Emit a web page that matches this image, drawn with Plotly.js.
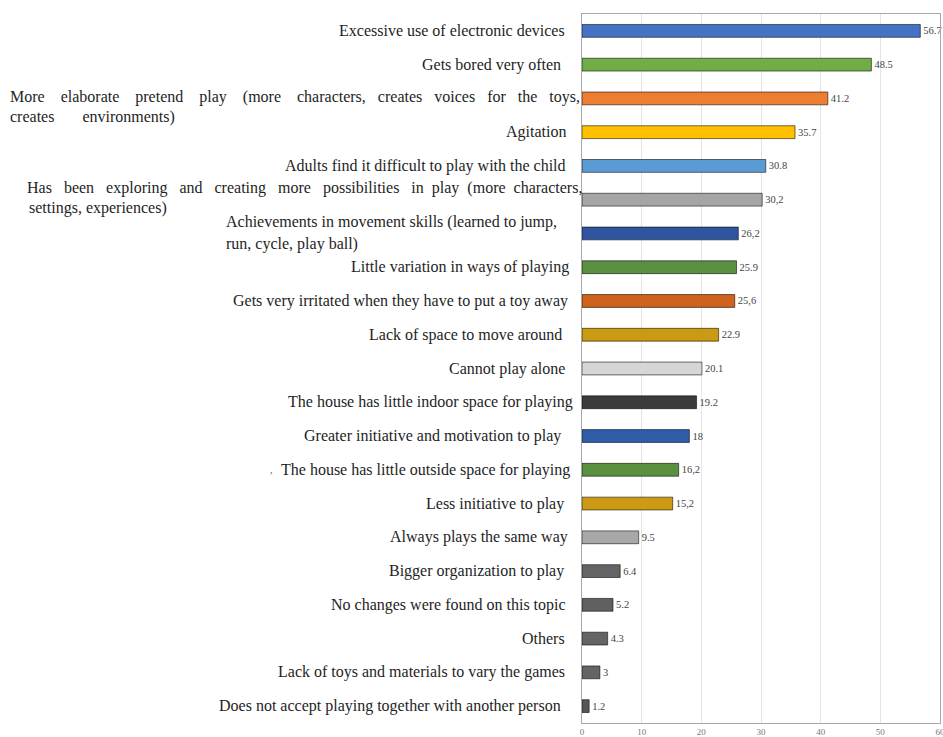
<!DOCTYPE html>
<html>
<head>
<meta charset="utf-8">
<script src="https://cdn.plot.ly/plotly-3.0.1.min.js"></script>
<style>
  html, body { margin: 0; padding: 0; background: #ffffff; }
  #chart { width: 943px; height: 737px; }
</style>
</head>
<body>
<div id="chart"></div>
<script>
// ---------- data ----------
const categories = [
  "Excessive use of electronic devices",
  "Gets bored very often",
  "More elaborate pretend play (more characters, creates voices for the toys, creates environments)",
  "Agitation",
  "Adults find it difficult to play with the child",
  "Has been exploring and creating more possibilities in play (more characters, settings, experiences)",
  "Achievements in movement skills (learned to jump, run, cycle, play ball)",
  "Little variation in ways of playing",
  "Gets very irritated when they have to put a toy away",
  "Lack of space to move around",
  "Cannot play alone",
  "The house has little indoor space for playing",
  "Greater initiative and motivation to play",
  "The house has little outside space for playing",
  "Less initiative to play",
  "Always plays the same way",
  "Bigger organization to play",
  "No changes were found on this topic",
  "Others",
  "Lack of toys and materials to vary the games",
  "Does not accept playing together with another person"
];
const values = [56.7, 48.5, 41.2, 35.7, 30.8, 30.2, 26.2, 25.9, 25.6, 22.9, 20.1, 19.2, 18, 16.2, 15.2, 9.5, 6.4, 5.2, 4.3, 3, 1.2];
const valueLabels = ["56.7", "48.5", "41.2", "35.7", "30.8", "30,2", "26,2", "25.9", "25,6", "22.9", "20.1", "19.2", "18", "16,2", "15,2", "9.5", "6.4", "5.2", "4.3", "3", "1.2"];
const tickValues = [0, 10, 20, 30, 40, 50, 60];

// ---------- style ----------
const barColors = [
  "#4472C4", "#70AD47", "#ED7D31", "#FFC000", "#5B9BD5", "#A5A5A5", "#2F55A0",
  "#5A9140", "#CF621C", "#C99A12", "#D6D6D6", "#3B3B3B", "#2F5DA8", "#5A9140",
  "#CC9A14", "#A8A8A8", "#646464", "#606060", "#646464", "#646464", "#555555"
];
const FONT = "Liberation Serif";
const LABEL_SIZE = 16;
const PL = 582, PR = 940;           // plot left/right in px
const px2paper = px => (px - PL) / (PR - PL);

// right end (px) for single-line labels
const labelRight = [567, 563, null, 568, 568, null, null, 571, 570, 564, 567, 575, 563, 572, 566, 570, 566, 568, 567, 567, 563];

// multi-line labels: {index: [[text, leftPx, rightPx(justify or null), dyPx]]}
const labelLines = {
  2: [["More elaborate pretend play (more characters, creates voices for the toys,", 8, 578, -1],
      ["creates environments)", 8, 174, 19]],
  5: [["Has been exploring and creating more possibilities in play (more characters,", 25, 580, -12],
      ["settings, experiences)", 27, null, 8]],
  6: [["Achievements in movement skills (learned to jump,", 224, null, -11],
      ["run, cycle, play ball)", 224, null, 11]]
};

const ctx = document.createElement("canvas").getContext("2d");
ctx.font = LABEL_SIZE + "px '" + FONT + "'";
function justify(text, width) {
  const words = text.split(" ");
  const gaps = words.length - 1;
  if (gaps < 1) return text;
  const natural = ctx.measureText(text).width;
  const sp = ctx.measureText("\u00A0").width;
  let extra = Math.max(0, Math.round((width - natural) / sp));
  const base = Math.floor(extra / gaps), rem = extra % gaps;
  let out = words[0];
  for (let i = 1; i < words.length; i++) {
    const n = 1 + base + (i <= rem ? 1 : 0);
    out += "\u00A0".repeat(n) + words[i];
  }
  return out;
}

const annotations = [];
categories.forEach((c, i) => {
  if (labelLines[i]) {
    labelLines[i].forEach(([t, x0, x1, dy]) => {
      annotations.push({
        text: x1 ? justify(t, x1 - x0) : t,
        xref: "paper", yref: "y", x: px2paper(x0), y: c,
        xanchor: "left", yanchor: "middle", yshift: -dy, showarrow: false,
        font: { family: FONT, size: LABEL_SIZE, color: "#1e1e1e" }
      });
    });
  } else {
    annotations.push({
      text: c, xref: "paper", yref: "y", x: px2paper(labelRight[i]), y: c,
      xanchor: "right", yanchor: "middle", showarrow: false,
      font: { family: FONT, size: LABEL_SIZE, color: "#1e1e1e" }
    });
  }
});
// small stray mark before one label in the original
annotations.push({
  text: ",", xref: "paper", yref: "y", x: px2paper(275), y: categories[13],
  xanchor: "right", yanchor: "middle", showarrow: false,
  font: { family: FONT, size: 10, color: "#666" }
});

const trace = {
  type: "bar",
  orientation: "h",
  x: values,
  y: categories,
  text: valueLabels,
  textposition: "outside",
  texttemplate: "%{text}",
  cliponaxis: false,
  constraintext: "none",
  textfont: { family: FONT, size: 10.5, color: "#444" },
  marker: { color: barColors, line: { color: "rgba(0,0,0,0.55)", width: 1 } },
  hoverinfo: "x+y"
};

const layout = {
  width: 943, height: 737,
  margin: { l: PL, r: 943 - PR, t: 14, b: 14, pad: 0 },
  paper_bgcolor: "#ffffff", plot_bgcolor: "#ffffff",
  bargap: 0.62,
  showlegend: false,
  xaxis: {
    range: [0, 60], tickvals: tickValues, ticktext: tickValues.map(String),
    showgrid: true, gridcolor: "#e4e4e4", gridwidth: 1,
    zeroline: false, showline: true, mirror: true, linecolor: "#a8a8a8", linewidth: 1,
    ticks: "", ticklabeloverflow: "allow",
    tickfont: { family: FONT, size: 9, color: "#777" }, automargin: false
  },
  yaxis: {
    autorange: "reversed", showticklabels: false, ticks: "",
    showgrid: false, zeroline: false, showline: true, mirror: true,
    linecolor: "#a8a8a8", linewidth: 1, automargin: false
  },
  annotations: annotations
};

Plotly.newPlot("chart", [trace], layout, { displayModeBar: false, staticPlot: true });
</script>
</body>
</html>
